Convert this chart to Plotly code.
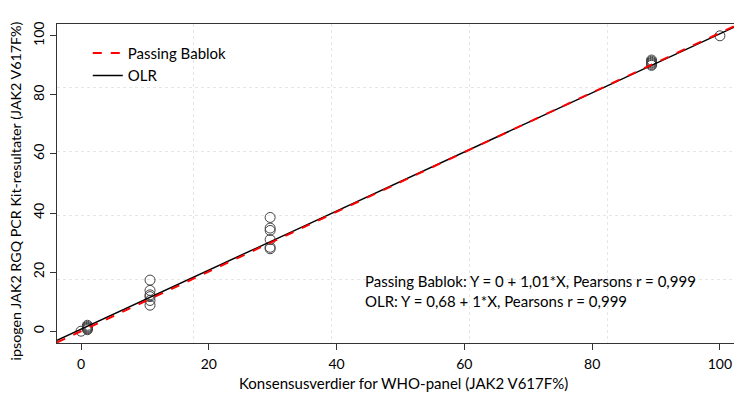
import plotly.graph_objects as go

# Data
x_vals = [0, 1, 1, 1, 1, 1, 1,
          10.8, 10.8, 10.8, 10.8, 10.8, 10.8,
          29.6, 29.6, 29.6, 29.6, 29.6, 29.6,
          89.3, 89.3, 89.3, 89.3, 89.3, 89.3,
          100]
y_vals = [0, 0.5, 0.8, 1.0, 1.3, 1.6, 2.0,
          8.8, 10.4, 11.7, 12.3, 13.8, 17.3,
          27.9, 28.4, 31.0, 34.1, 34.9, 38.5,
          90.0, 90.3, 90.7, 91.0, 91.4, 91.8,
          100]
pb_intercept, pb_slope = 0.0, 1.01
olr_intercept, olr_slope = 0.68, 1.0
x_range = [-3.76, 103.3]
y_range = [-4, 104]
ticks = [0, 20, 40, 60, 80, 100]
x_title = "Konsensusverdier for WHO-panel (JAK2 V617F%)"
y_title = "ipsogen JAK2 RGQ PCR Kit-resultater (JAK2 V617F%)"
stats_text = "Passing Bablok: Y = 0 + 1,01*X, Pearsons r = 0,999<br>OLR: Y = 0,68 + 1*X, Pearsons r = 0,999"

FONT = "Lato"

line_x = [x_range[0], x_range[1]]
fig = go.Figure()
fig.add_trace(go.Scatter(
    x=x_vals, y=y_vals, mode="markers", showlegend=False,
    marker=dict(symbol="circle-open", size=10, color="#444444", line=dict(width=1))))
fig.add_trace(go.Scatter(
    x=line_x, y=[olr_intercept + olr_slope * v for v in line_x], mode="lines",
    name="OLR", line=dict(color="#000000", width=1.5)))
fig.add_trace(go.Scatter(
    x=line_x, y=[pb_intercept + pb_slope * v for v in line_x], mode="lines",
    name="Passing Bablok", line=dict(color="#ff0000", width=2, dash="dash")))

# page body has an 8px margin, so the figure is shrunk and shifted accordingly
fig.update_layout(
    width=734, height=385,
    margin=dict(l=49, r=1, t=16, b=50),
    paper_bgcolor="white", plot_bgcolor="white",
    font=dict(family=FONT, size=14, color="black"),
    legend=dict(x=0.045, y=0.96, xanchor="left", yanchor="top", traceorder="reversed",
                bgcolor="rgba(0,0,0,0)", font=dict(size=15)),
    annotations=[
        dict(x=44.1, y=13.5, xref="x", yref="y", xanchor="left", yanchor="middle",
             align="left", showarrow=False, font=dict(size=15), text=stats_text),
        dict(x=0.507, y=-0.125, xref="paper", yref="paper", xanchor="center", yanchor="middle",
             showarrow=False, font=dict(size=15), text=x_title),
        dict(x=-0.0614, y=0.475, xref="paper", yref="paper", xanchor="center", yanchor="middle",
             showarrow=False, textangle=-90, font=dict(size=14.3), text=y_title),
    ],
)
fig.update_xaxes(
    range=x_range, tickvals=ticks, ticks="outside", ticklen=6, tickcolor="#333333",
    showline=True, linecolor="#333333", mirror=True, linewidth=1, automargin=False,
    showgrid=False, zeroline=False, tickfont=dict(size=14), ticklabelstandoff=2,
    minor=dict(tick0=-4, dtick=21.6, showgrid=True, griddash="dot", gridcolor="#e6e6e6", gridwidth=1, ticks=""))
fig.update_yaxes(
    range=y_range, tickvals=ticks, ticks="outside", ticklen=6, tickcolor="#333333",
    showline=True, linecolor="#333333", mirror=False, linewidth=1, automargin=False,
    showgrid=False, zeroline=False, tickangle=-90, tickfont=dict(size=14),
    minor=dict(tick0=-4, dtick=21.6, showgrid=True, griddash="dot", gridcolor="#e6e6e6", gridwidth=1, ticks=""))

fig.write_html("out.html")
